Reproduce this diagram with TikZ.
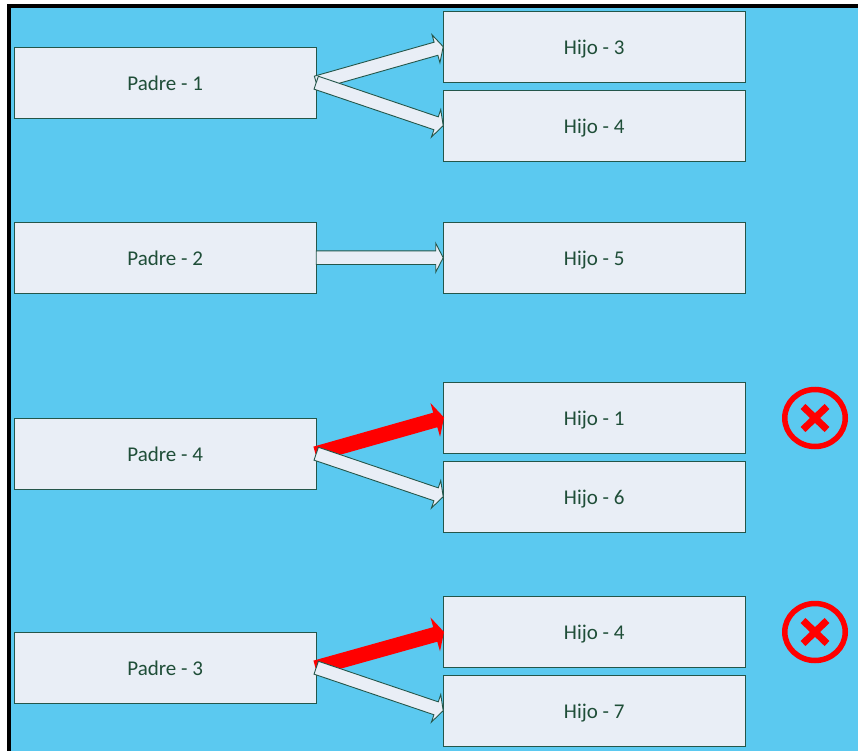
\documentclass[tikz,border=0pt]{standalone}
\usepackage{fontspec}
\setmainfont{Carlito}
\usetikzlibrary{calc,shapes.geometric}
\definecolor{bgblue}{HTML}{5BC9F0}
\definecolor{boxfill}{HTML}{E9EEF6}
\definecolor{boxline}{HTML}{24564A}
\definecolor{boxtext}{HTML}{1F4E38}
\tikzset{
  box/.style={draw=boxline,fill=boxfill,line width=0.8pt,minimum width=302pt,minimum height=71pt,inner sep=0pt,outer sep=0pt,text=boxtext,text height=16pt,text depth=1pt,font=\fontsize{21}{24}\selectfont},
  okarrow/.style={draw=boxline,fill=boxfill,line width=0.9pt,line join=miter},
  badarrow/.style={draw=red,fill=red,line width=1.5pt,line join=miter},
  crossring/.style={draw=red,line width=5.5pt,ellipse,minimum width=60.5pt,minimum height=57pt,inner sep=0pt,outer sep=0pt},
  crossbar/.style={draw=red,line width=7pt}
}
\newcommand{\blockarrow}[3]{%
  \coordinate (hb) at ($(#2)!7.5pt!(#1)$);
  \draw[#3] ($(#1)!6.8pt!-90:(#2)$) -- ($(hb)!6.8pt!-90:(#2)$) -- ($(hb)!14.5pt!-90:(#2)$) -- (#2)
    -- ($(hb)!14.5pt!90:(#2)$) -- ($(hb)!6.8pt!90:(#2)$) -- ($(#1)!6.8pt!90:(#2)$) -- cycle;
}
\newcommand{\crossmark}[3]{%
  \node[crossring] (#1) at (#2,#3) {};
  \draw[crossbar] ($(#1)+(-12,-11.5)$) -- ($(#1)+(12,11.5)$);
  \draw[crossbar] ($(#1)+(-12,11.5)$) -- ($(#1)+(12,-11.5)$);
}
\begin{document}
\begin{tikzpicture}[x=1pt,y=-1pt]
\useasboundingbox (0,0) rectangle (858,751);
\fill[white] (0,0) rectangle (858,751);
\fill[black] (6.5,3.6) rectangle (858,751);
\fill[bgblue] (10.6,7.7) rectangle (858,751);
\node[box] (p1) at (165.2,82.7) {Padre - 1};
\node[box] (p2) at (165.2,257.7) {Padre - 2};
\node[box] (p4) at (165.2,453.7) {Padre - 4};
\node[box] (p3) at (165.2,667.7) {Padre - 3};
\node[box] (h3) at (594.2,46.7) {Hijo - 3};
\node[box] (h4) at (594.2,125.7) {Hijo - 4};
\node[box] (h5) at (594.2,257.7) {Hijo - 5};
\node[box] (h1) at (594.2,417.7) {Hijo - 1};
\node[box] (h6) at (594.2,496.7) {Hijo - 6};
\node[box] (h4b) at (594.2,632.2) {Hijo - 4};
\node[box] (h7) at (594.2,710.7) {Hijo - 7};
\blockarrow{p1.east}{h3.west}{okarrow}
\blockarrow{p1.east}{h4.west}{okarrow}
\blockarrow{p2.east}{h5.west}{okarrow}
\blockarrow{p4.east}{h1.west}{badarrow}
\blockarrow{p4.east}{h6.west}{okarrow}
\blockarrow{p3.east}{h4b.west}{badarrow}
\blockarrow{p3.east}{h7.west}{okarrow}
\crossmark{x1}{815}{418}
\crossmark{x2}{815}{632}
\end{tikzpicture}
\end{document}
